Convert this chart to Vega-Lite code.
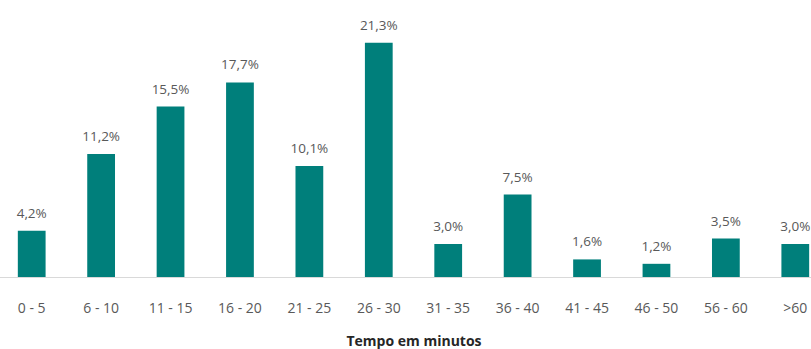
{
  "$schema": "https://vega.github.io/schema/vega-lite/v6.json",
  "width": 811,
  "height": 277,
  "autosize": "none",
  "padding": {"left": 0, "top": 0, "right": 0, "bottom": 72},
  "background": "white",
  "data": {
    "values": [
      {"faixa": "0 - 5", "pct": 4.2, "label": "4,2%"},
      {"faixa": "6 - 10", "pct": 11.2, "label": "11,2%"},
      {"faixa": "11 - 15", "pct": 15.5, "label": "15,5%"},
      {"faixa": "16 - 20", "pct": 17.7, "label": "17,7%"},
      {"faixa": "21 - 25", "pct": 10.1, "label": "10,1%"},
      {"faixa": "26 - 30", "pct": 21.3, "label": "21,3%"},
      {"faixa": "31 - 35", "pct": 3.0, "label": "3,0%"},
      {"faixa": "36 - 40", "pct": 7.5, "label": "7,5%"},
      {"faixa": "41 - 45", "pct": 1.6, "label": "1,6%"},
      {"faixa": "46 - 50", "pct": 1.2, "label": "1,2%"},
      {"faixa": "56 - 60", "pct": 3.5, "label": "3,5%"},
      {"faixa": ">60", "pct": 3.0, "label": "3,0%"}
    ]
  },
  "encoding": {
    "x": {
      "field": "faixa",
      "type": "nominal",
      "sort": null,
      "scale": {"range": [-3, 830], "paddingInner": 0.6, "paddingOuter": 0.3},
      "axis": {
        "title": "Tempo em minutos",
        "labelAngle": 0,
        "ticks": false,
        "domainColor": "#d9d9d9",
        "labelColor": "#595959",
        "labelFont": "Open Sans",
        "labelFontSize": 14,
        "labelPadding": 24,
        "titleFont": "Open Sans",
        "titleFontSize": 14,
        "titleFontWeight": "bold",
        "titleColor": "#262626",
        "titlePadding": 19
      }
    },
    "y": {
      "field": "pct",
      "type": "quantitative",
      "scale": {"domain": [0, 25.2]},
      "axis": null
    }
  },
  "layer": [
    {"mark": {"type": "bar", "color": "#007f7b"}},
    {
      "mark": {"type": "text", "baseline": "bottom", "dy": -10, "font": "Open Sans", "fontSize": 13.5, "color": "#595959"},
      "encoding": {"text": {"field": "label"}}
    }
  ],
  "config": {"view": {"stroke": null}}
}
